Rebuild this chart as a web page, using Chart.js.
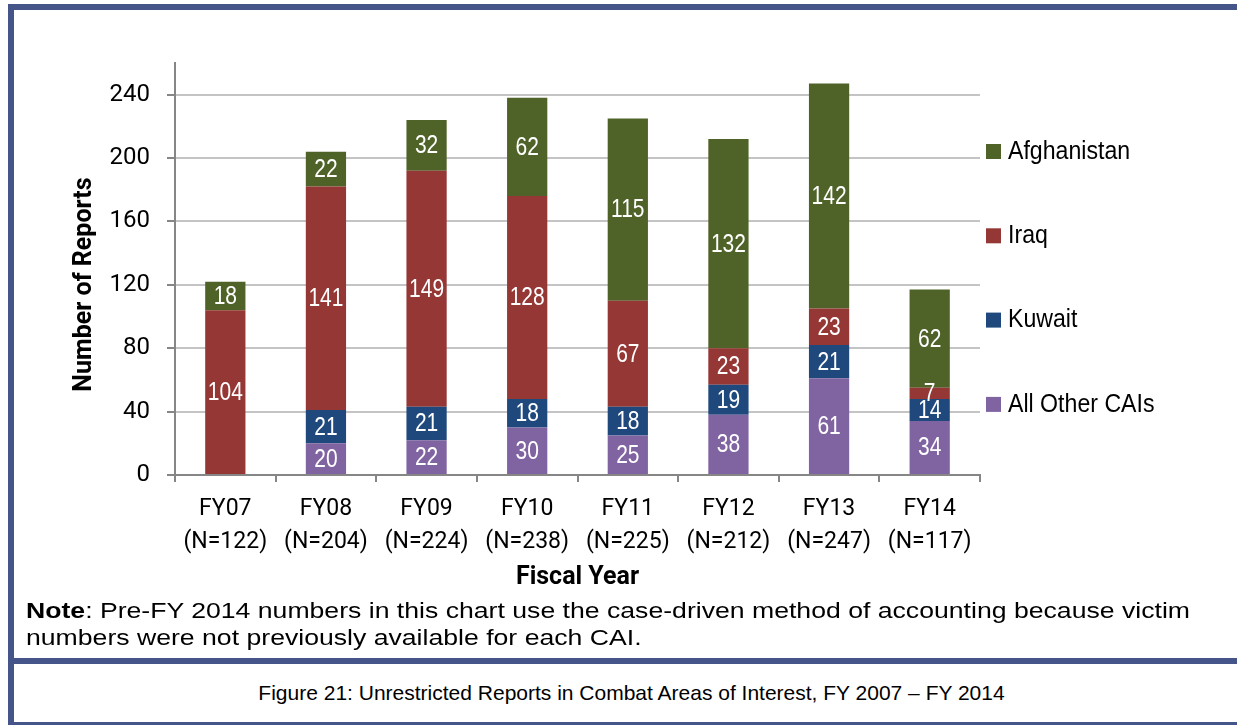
<!DOCTYPE html>
<html>
<head>
<meta charset="utf-8">
<script src="https://cdn.jsdelivr.net/npm/chart.js@4.4.1/dist/chart.umd.min.js"></script>
<style>
  html, body { margin: 0; padding: 0; background: #fff; }
  body { width: 1237px; height: 725px; position: relative; overflow: hidden; font-family: 'Liberation Sans', Arial, sans-serif; }
  .bar { position: absolute; background: #455489; z-index: 2; }
  #chartBox { position: absolute; left: 0; top: 0; width: 1237px; height: 600px; }
  #note { position: absolute; left: 26px; top: 597px; font-size: 22px; line-height: 27px; color: #000; white-space: nowrap; transform: scaleX(1.21); transform-origin: 0 0; }
  #caption { position: absolute; left: 26px; right: 0; top: 664px; height: 58px; line-height: 58px; text-align: center; font-size: 21px; color: #000; }
</style>
</head>
<body>
<div class="bar" style="left:8px;top:4px;width:1229px;height:6px;"></div>
<div class="bar" style="left:8px;top:4px;width:6px;height:721px;"></div>
<div class="bar" style="left:8px;top:658px;width:1229px;height:6px;"></div>
<div class="bar" style="left:8px;top:722px;width:1229px;height:3px;"></div>

<div id="chartBox"><canvas id="cai"></canvas></div>
<div id="note"><b>Note</b>: Pre-FY 2014 numbers in this chart use the case-driven method of accounting because victim<br>numbers were not previously available for each CAI.</div>
<div id="caption">Figure 21: Unrestricted Reports in Combat Areas of Interest, FY 2007 – FY 2014</div>

<script>
// Chart data
const fiscalYears = ['FY07', 'FY08', 'FY09', 'FY10', 'FY11', 'FY12', 'FY13', 'FY14'];
const totals = [122, 204, 224, 238, 225, 212, 247, 117];
const otherCAIs = [0, 20, 22, 30, 25, 38, 61, 34];
const kuwait = [0, 21, 21, 18, 18, 19, 21, 14];
const iraq = [104, 141, 149, 128, 67, 23, 23, 7];
const afghanistan = [18, 22, 32, 62, 115, 132, 142, 62];
const yTicks = [0, 40, 80, 120, 160, 200, 240];

const axisFont = "Roboto, 'Liberation Sans', sans-serif";
const labelFont = "'Liberation Sans', Arial, sans-serif";

// white numbers in the middle of each segment (squeezed to look like a narrow face)
const segmentLabels = {
  id: 'segmentLabels',
  afterDatasetsDraw(chart) {
    const ctx = chart.ctx;
    ctx.save();
    ctx.font = '25px ' + labelFont;
    ctx.fillStyle = '#ffffff';
    ctx.textAlign = 'center';
    ctx.textBaseline = 'middle';
    chart.data.datasets.forEach((ds, i) => {
      chart.getDatasetMeta(i).data.forEach((bar, j) => {
        const v = ds.data[j];
        if (!v) return;
        ctx.save();
        ctx.translate(bar.x, (bar.y + bar.base) / 2 + 1);
        ctx.scale(0.84, 1);
        ctx.fillText(String(v), 0, 0);
        ctx.restore();
      });
    });
    ctx.restore();
  }
};

// legend on the right, top item = top of stack
const sideLegend = {
  id: 'sideLegend',
  afterDraw(chart) {
    const ctx = chart.ctx;
    const area = chart.chartArea;
    const items = chart.data.datasets.slice().reverse();
    ctx.save();
    ctx.font = '25px ' + labelFont;
    ctx.textBaseline = 'middle';
    ctx.textAlign = 'left';
    items.forEach((ds, i) => {
      const cy = area.top + 89 + i * 84.3;
      ctx.fillStyle = ds.backgroundColor;
      ctx.fillRect(area.right + 6, cy - 8, 15, 15);
      ctx.save();
      ctx.translate(area.right + 28, cy);
      ctx.scale(0.925, 1);
      ctx.fillStyle = '#000';
      ctx.fillText(ds.label, 0, 0);
      ctx.restore();
    });
    ctx.restore();
  }
};

new Chart(document.getElementById('cai'), {
  type: 'bar',
  data: {
    labels: fiscalYears.map((fy, i) => [fy, '(N=' + totals[i] + ')']),
    datasets: [
      { label: 'All Other CAIs', data: otherCAIs, backgroundColor: '#8064A2' },
      { label: 'Kuwait', data: kuwait, backgroundColor: '#1F497D' },
      { label: 'Iraq', data: iraq, backgroundColor: '#953735' },
      { label: 'Afghanistan', data: afghanistan, backgroundColor: '#4F6228' }
    ]
  },
  options: {
    responsive: true,
    maintainAspectRatio: false,
    animation: false,
    barPercentage: 0.4,
    categoryPercentage: 1,
    layout: { padding: { left: 0, right: 257, top: 63, bottom: 0 } },
    plugins: {
      legend: { display: false },
      tooltip: { enabled: false }
    },
    scales: {
      x: {
        stacked: true,
        afterFit: s => { s.height = 125; },
        border: { color: '#868686', width: 2 },
        grid: { drawOnChartArea: false, tickLength: 7, color: '#868686', lineWidth: 2 },
        ticks: {
          color: '#000', padding: 11, autoSkip: false, maxRotation: 0, minRotation: 0,
          font: { family: axisFont, size: 23, lineHeight: 1.435 }
        },
        title: {
          display: true,
          text: 'Fiscal Year',
          color: '#000',
          font: { family: axisFont, size: 25, weight: 'bold', lineHeight: 1.2 },
          padding: { top: 0, bottom: 7 }
        }
      },
      y: {
        stacked: true,
        min: 0,
        max: 260,
        afterFit: s => { s.width = 175; },
        afterBuildTicks: s => { s.ticks = yTicks.map(v => ({ value: v })); },
        border: { color: '#868686', width: 2 },
        grid: { color: '#c4c4c4', lineWidth: 2, tickLength: 8, tickColor: '#868686' },
        ticks: { color: '#000', padding: 17, font: { family: axisFont, size: 24 } },
        title: {
          display: true,
          text: 'Number of Reports\u00a0\u00a0\u00a0\u00a0\u00a0',
          color: '#000',
          font: { family: axisFont, size: 25, weight: 'bold', lineHeight: 1.2 },
          padding: { top: 70, bottom: 0 }
        }
      }
    }
  },
  plugins: [segmentLabels, sideLegend]
});
</script>
</body>
</html>
